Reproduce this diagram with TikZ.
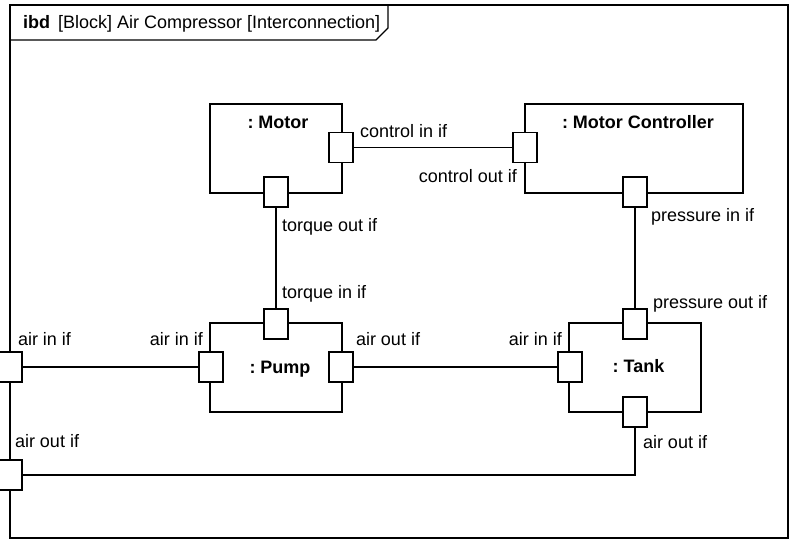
\documentclass[tikz,border=0pt]{standalone}
\usepackage{fontspec}
\setmainfont{Liberation Sans}
\frenchspacing
\begin{document}
\begin{tikzpicture}[x=1bp,y=-1bp,
  line width=1.2bp, line join=miter,
  every node/.style={font=\fontsize{18bp}{20bp}\selectfont, inner sep=0pt, outer sep=0pt},
  block/.style={draw, rectangle},
  port/.style={draw, fill=white, rectangle, minimum width=24bp, minimum height=30bp},
  lbl/.style={anchor=base west},
  lblr/.style={anchor=base east},
  ttl/.style={anchor=base, font=\fontsize{18bp}{20bp}\selectfont\bfseries}]
\useasboundingbox (0,0) rectangle (789,539);
% frame
\draw (10,5) rectangle (788,538);
\draw (10,40) -- (376,40) -- (388,28) -- (388,5);
\node[anchor=base west] (title) at (23,29) {\textbf{ibd}\hspace{0.45em}[Block] Air Compressor [Interconnection]};
% blocks
\node[block, minimum width=132bp, minimum height=89bp] (motor) at (276,148.5) {};
\node[block, minimum width=218bp, minimum height=89bp] (mc) at (634,148.5) {};
\node[block, minimum width=132bp, minimum height=89bp] (pump) at (276,367.5) {};
\node[block, minimum width=132bp, minimum height=89bp] (tank) at (635,367.5) {};
% block titles
\node[ttl] (tmotor) at (278,129) {: Motor};
\node[ttl] (tmc) at (638,129) {: Motor Controller};
\node[ttl] (tpump) at (280,373) {: Pump};
\node[ttl] (ttank) at (638.5,372) {: Tank};
% ports
\node[port] (mcin) at (341,147.5) {};
\node[port] (mtout) at (276,192) {};
\node[port] (ccout) at (525,147.5) {};
\node[port] (cpin) at (635,192) {};
\node[port] (ptin) at (276,324) {};
\node[port] (pain) at (211,367) {};
\node[port] (paout) at (341,367) {};
\node[port] (tain) at (570,367) {};
\node[port] (tpout) at (635,324) {};
\node[port] (taout) at (635,412) {};
\node[port] (fain) at (10,367) {};
\node[port] (faout) at (10,475) {};
% connectors
\draw (mcin.east) -- (ccout.west);
\draw (mtout.south) -- (ptin.north);
\draw (cpin.south) -- (tpout.north);
\draw (fain.east) -- (pain.west);
\draw (paout.east) -- (tain.west);
\coordinate (bend) at (taout.south |- faout.east);
\draw (taout.south) -- (bend) -- (faout.east);
% port labels
\node[lbl] (l1) at (360,138) {control in if};
\node[lblr] (l2) at (517,183) {control out if};
\node[lbl] (l3) at (282,232) {torque out if};
\node[lbl] (l4) at (651,222) {pressure in if};
\node[lbl] (l5) at (282,299) {torque in if};
\node[lbl] (l6) at (653,309) {pressure out if};
\node[lbl] (l7) at (18,345) {air in if};
\node[lblr] (l8) at (203,345) {air in if};
\node[lbl] (l9) at (356,345) {air out if};
\node[lblr] (l10) at (562,345) {air in if};
\node[lbl] (l11) at (15,447) {air out if};
\node[lbl] (l12) at (643,448) {air out if};
\end{tikzpicture}
\end{document}
